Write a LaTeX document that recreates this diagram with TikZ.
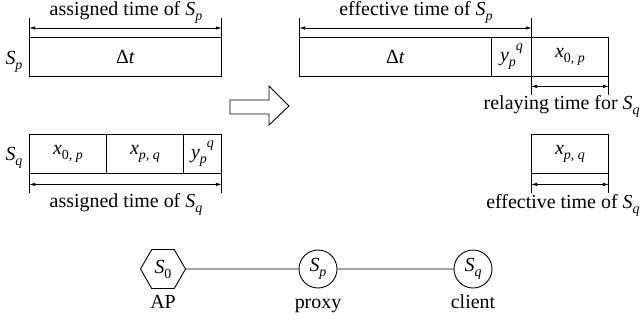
\documentclass[tikz,border=0pt]{standalone}
\usepackage{fontspec}
\setmainfont{Liberation Serif}
\usetikzlibrary{shapes.geometric,arrows.meta}
\newcommand{\vsub}[2]{\textit{#1}\raisebox{-0.55ex}{\fontsize{14}{14}\selectfont #2}}
\newcommand{\vsubsup}[3]{\textit{#1}\raisebox{-0.55ex}{\fontsize{14}{14}\selectfont #2}\raisebox{1.1ex}{\fontsize{14}{14}\selectfont #3}}
\begin{document}
\begin{tikzpicture}[x=1bp,y=-1bp,line width=0.9bp,
  every node/.style={font=\fontsize{20}{23}\selectfont},
  cell/.style={draw,anchor=north west,inner sep=0pt,minimum height=38.5bp,minimum width=#1},
  dim/.style={{Latex[length=6bp,width=3.5bp]}-{Latex[length=6bp,width=3.5bp]}},
  lbl/.style={anchor=base,inner sep=0pt},
  hexa/.style={draw,regular polygon,regular polygon sides=6,minimum size=45bp,inner sep=0pt},
  stn/.style={draw,circle,minimum size=38bp,inner sep=0pt}]
\useasboundingbox (0,0) rectangle (642,328);
% assigned slots
\node[cell=192bp] (dta) at (29,37) {Δ\textit{t}} ;
\node[lbl] (lsp) at (14,64) {\vsub{S}{\textit{p}}} ;
\draw (dta.north west) -- ++(0,-19) ;
\draw (dta.north east) -- ++(0,-19) ;
\draw[dim] ([yshift=9bp]dta.north west) -- ([yshift=9bp]dta.north east) ;
\node[lbl] (asp) at (126,15) {assigned time of \vsub{S}{\textit{p}}} ;
  \node[cell=77bp] (xoa) at (29,134) {\vsub{x}{0, \textit{p}}} ;
  \node[cell=77bp] (xpa) at (106,134) {\vsub{x}{\textit{p}, \textit{q}}} ;
  \node[cell=38bp] (ypa) at (183,134) {\vsubsup{y}{\textit{p}}{\textit{q}}} ;
\node[lbl] (lsq) at (14,160) {\vsub{S}{\textit{q}}} ;
\draw (xoa.south west) -- ++(0,20) ;
\draw (ypa.south east) -- ++(0,20) ;
\draw[dim] ([yshift=-11bp]xoa.south west) -- ([yshift=-11bp]ypa.south east) ;
\node[lbl] (asq) at (126,207) {assigned time of \vsub{S}{\textit{q}}} ;
% hollow arrow
\draw (230,100) -- (269,100) -- (269,86) -- (289,106) -- (269,125) -- (269,114) -- (230,114) -- cycle ;
% effective slots
\node[cell=192bp] (dtb) at (299,37) {Δ\textit{t}} ;
\node[cell=40bp] (ypb) at (491,37) {\vsubsup{y}{\textit{p}}{\textit{q}}} ;
\node[cell=77bp] (xob) at (531,37) {\vsub{x}{0, \textit{p}}} ;
\draw (dtb.north west) -- ++(0,-19) ;
\draw ([yshift=19bp]ypb.north east) -- ([yshift=-19bp]ypb.south east) ;
\draw (xob.south east) -- ++(0,19) ;
\draw[dim] ([yshift=9bp]dtb.north west) -- ([yshift=9bp]ypb.north east) ;
\draw[dim] ([yshift=-10bp]xob.south west) -- ([yshift=-10bp]xob.south east) ;
\node[lbl] (esp) at (416,15) {effective time of \vsub{S}{\textit{p}}} ;
\node[lbl,anchor=base east] (rsq) at (640,109) {relaying time for \vsub{S}{\textit{q}}} ;
  \node[cell=77bp] (xpb) at (531,134) {\vsub{x}{\textit{p}, \textit{q}}} ;
\draw (xpb.south west) -- ++(0,20) ;
\draw (xpb.south east) -- ++(0,20) ;
\draw[dim] ([yshift=-11bp]xpb.south west) -- ([yshift=-11bp]xpb.south east) ;
\node[lbl,anchor=base east] (esq) at (640,208) {effective time of \vsub{S}{\textit{q}}} ;
% stations
\node[hexa] (ap) at (163,269) {\vsub{S}{0}} ;
\node[stn] (px) at (318,269) {\vsub{S}{\textit{p}}} ;
\node[stn] (cl) at (473,269) {\vsub{S}{\textit{q}}} ;
\draw (ap) -- (px) -- (cl) ;
\node[lbl] (lap) at (163,308) {AP} ;
\node[lbl] (lpx) at (318,308) {proxy} ;
\node[lbl] (lcl) at (473,308) {client} ;
\end{tikzpicture}
\end{document}
